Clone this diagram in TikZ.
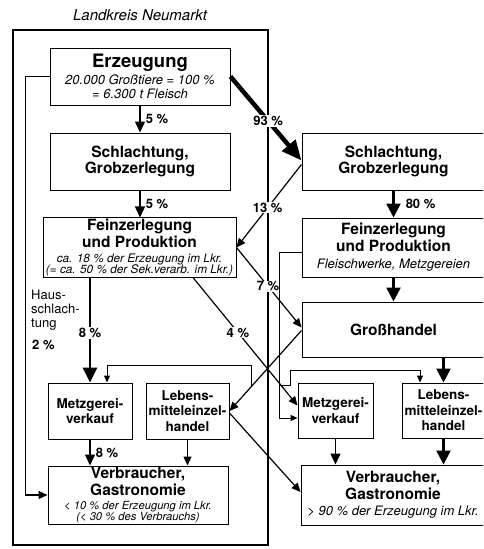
\documentclass[tikz,border=0pt]{standalone}
\usepackage{fontspec}
\setmainfont{TeX Gyre Heros}
\usepackage{tikz}
\usetikzlibrary{arrows.meta}

\newcommand{\titl}{\fontsize{15.5}{16.5}\selectfont\bfseries}
\newcommand{\subtxt}{\fontsize{13}{14}\selectfont\mdseries\itshape}

\tikzset{
	box/.style={draw, line width=1pt, align=center, inner sep=1pt, font=\titl},
	smallbox/.style={box, font=\fontsize{13.5}{15.5}\selectfont\bfseries},
	flow/.style={line width=1.2pt, -{Triangle[length=9pt,width=8pt]}},
	midflow/.style={line width=1.5pt, -{Triangle[length=11pt,width=10pt]}},
	smallflow/.style={line width=1pt, -{Triangle[length=7pt,width=6pt]}},
	bigflow/.style={line width=2.8pt, -{Triangle[length=15pt,width=14pt]}},
	pct/.style={font=\fontsize{13}{14}\selectfont\bfseries, inner sep=1pt},
}

\begin{document}
\begin{tikzpicture}[x=1pt, y=-1pt]
			\useasboundingbox (0,0) rectangle (483,549);
			\clip (0,0) rectangle (483,549);
			
			\draw[line width=2pt] (13,30) rectangle (268,545);
			\node[font=\fontsize{15}{16}\selectfont\itshape] (lk) at (140,15) {Landkreis Neumarkt};
			
			\node[box, font=\subtxt, minimum width=180, minimum height=57] (erz) at (140,76.5) {{\fontsize{18.5}{20}\selectfont\bfseries\upshape Erzeugung}\\[3pt]20.000 Großtiere = 100 \%\\= 6.300 t Fleisch};
			\node[box, minimum width=180, minimum height=57] (schlL) at (140,161.5) {Schlachtung,\\Grobzerlegung};
			\node[box, minimum width=193, minimum height=59] (feinL) at (139.5,247.5) {Feinzerlegung\\und Produktion\\[-1.5pt]{\fontsize{11.8}{12}\selectfont\mdseries\itshape ca. 18 \% der Erzeugung im Lkr.}\\[-5pt]{\fontsize{11.8}{12}\selectfont\mdseries\itshape (= ca. 50 \% der Sek.verarb. im Lkr.)}};
			\node[smallbox, minimum width=84, minimum height=56] (metzL) at (90,411) {Metzgerei-\\verkauf};
			\node[smallbox, minimum width=83, minimum height=56] (lehL) at (187.5,411) {Lebens-\\mitteleinzel-\\handel};
			\node[box, minimum width=180, minimum height=58] (verbL) at (138,495) {Verbraucher,\\Gastronomie\\[-2.5pt]{\fontsize{11.2}{12}\selectfont\mdseries\itshape < 10 \% der Erzeugung im Lkr.}\\[-5.5pt]{\fontsize{11.2}{12}\selectfont\mdseries\itshape (< 30 \% des Verbrauchs)}};
			
			\node[box, minimum width=183, minimum height=57] (schlR) at (393.5,161.5) {Schlachtung,\\Grobzerlegung};
			\node[box, minimum width=183, minimum height=59] (feinR) at (393.5,247.5) {Feinzerlegung\\und Produktion\\[1pt]{\subtxt Fleischwerke, Metzgereien}};
			\node[box, minimum width=183, minimum height=55] (gh) at (393.5,329.5) {Großhandel};
			\node[smallbox, minimum width=75, minimum height=55] (metzR) at (335.5,410.5) {Metzgerei-\\verkauf};
			\node[smallbox, minimum width=83, minimum height=55] (lehR) at (443.5,410.5) {Lebens-\\mitteleinzel-\\handel};
			\node[box, minimum width=184, minimum height=60] (verbR) at (393,495) {Verbraucher,\\Gastronomie\\{\subtxt > 90 \% der Erzeugung im Lkr.}};
			
			\node[align=left, anchor=north west, inner sep=0pt, font=\fontsize{13}{14}\selectfont] (hs) at (31,290) {Haus-\\schlach-\\tung};
			\node[pct, anchor=west] (hsp) at (31,345) {2 \%};
			
			\draw[flow] (erz.west) -- ++(-24,0) |- (verbL.west);
			\draw[midflow] (erz.south) -- node[pct, right=4pt] {5 \%} (schlL.north);
			\draw[midflow] (schlL.south) -- node[pct, right=4pt] {5 \%} (schlL.south |- feinL.north);
			\draw[line width=4.5pt, -{Triangle[length=20pt,width=17pt]}] (erz.east) -- node[pct, fill=white, pos=.53] {93 \%} ([yshift=1pt]schlR.west);
			\draw[flow] ([yshift=-3pt]schlR.west) -- node[pct, fill=white, pos=.52] {13 \%} (feinL.east);
			\draw[line width=2.5pt, -{Triangle[length=14pt,width=14pt]}] (schlR.south) -- node[pct, right=10pt] {80 \%} (schlR.south |- feinR.north);
			\draw[line width=2.5pt, -{Triangle[length=14pt,width=14pt]}] (feinR.south) -- (gh.north);
			\draw[flow] (feinL.east) -- node[pct, fill=white, pos=.485] {7 \%} ([yshift=2pt]gh.west);
			\draw[bigflow] (feinL.south -| metzL.north) -- node[pct, fill=white, pos=.53] {8 \%} (metzL.north);
			\draw[flow] ([xshift=53.5pt]feinL.south) -- node[pct, fill=white, pos=.43] {4 \%} ([yshift=5pt]metzR.west);
			\draw[flow] ([yshift=-1pt]gh.west) -- coordinate[pos=.7] (br) (lehL.east);
			\draw[smallflow] (br) -- ++(0,-21) -| ([xshift=17pt]metzL.north);
			\draw[flow] ([yshift=-2pt]lehL.east) -- ([yshift=3pt]verbR.west);
			\draw[smallflow] ([yshift=-4.5pt]feinR.west) -- ++(-22,0) |- ([yshift=-7.5pt]metzR.west);
			\coordinate (k2) at (280,385);
			\draw[smallflow] (k2) -- ++(10,0) -- ++(0,-15) -| ([xshift=-23.5pt]lehR.north);
			\draw[line width=2.5pt, -{Triangle[length=14pt,width=14pt]}] (gh.south -| lehR.north) -- (lehR.north);
			
			\draw[midflow] (metzL.south) -- node[pct, right=4pt] {8 \%} (metzL.south |- verbL.north);
			\draw[flow] (lehL.south) -- (lehL.south |- verbL.north);
			\draw[midflow] (metzR.south) -- (metzR.south |- verbR.north);
			\draw[line width=2.5pt, -{Triangle[length=14pt,width=14pt]}] (lehR.south) -- (lehR.south |- verbR.north);
		\end{tikzpicture}
\end{document}
